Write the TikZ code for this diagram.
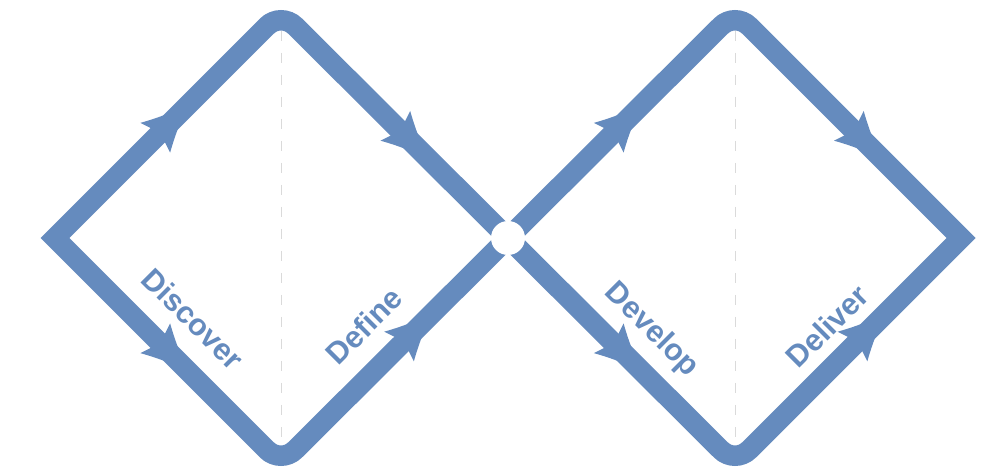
\documentclass[tikz,border=0pt]{standalone}
\usepackage{fontspec}
\setmainfont{Liberation Sans}
\usetikzlibrary{calc}
\definecolor{dblue}{RGB}{101,139,190}
\definecolor{guide}{RGB}{218,218,218}
\begin{document}
\begin{tikzpicture}[x=1pt,y=1pt,
  band/.style={draw=dblue, line width=20.5pt, line join=miter},
  phase/.style={text=dblue, font=\fontsize{30.5}{31}\selectfont\bfseries, inner sep=0pt},
  guideline/.style={draw=guide, line width=1pt, dash pattern=on 10pt off 12pt},
  headshape/.pic={\fill[dblue] (-2,21) .. controls (14,12) and (28,6) .. (44,0)
      .. controls (28,-6) and (14,-12) .. (-2,-21) -- (5,0) -- cycle;}
]
\useasboundingbox[fill=white] (0,0) rectangle (1002,469);

% corner points of the two diamonds
\coordinate (L1) at (55,231);
\coordinate (T1) at (281,457);
\coordinate (B1) at (281,5);
\coordinate (C)  at (508,231);
\coordinate (T2) at (735,457);
\coordinate (B2) at (735,5);
\coordinate (R2) at (961,231);

% faint vertical guides through each diamond
\draw[guideline] ($(T1)+(0,-19)$) -- ($(B1)+(0,20)$);
\draw[guideline] ($(T2)+(0,-19)$) -- ($(B2)+(0,20)$);

% diamonds: sharp side corners, rounded top and bottom
\draw[band] (L1) -- ($(T1)+(-14.14,-14.14)$) arc[start angle=135,end angle=45,radius=20]
  -- (C) -- ($(B1)+(14.14,14.14)$) arc[start angle=-45,end angle=-135,radius=20] -- cycle;
\draw[band] (C) -- ($(T2)+(-14.14,-14.14)$) arc[start angle=135,end angle=45,radius=20]
  -- (R2) -- ($(B2)+(14.14,14.14)$) arc[start angle=-45,end angle=-135,radius=20] -- cycle;

% direction heads along the edges
\path ($(L1)!0.45!(T1)$)  pic[rotate=45]  {headshape};
\path ($(T1)!0.51!(C)$)   pic[rotate=-45] {headshape};
\path ($(L1)!0.45!(B1)$)  pic[rotate=-45] {headshape};
\path ($(B1)!0.526!(C)$)  pic[rotate=45]  {headshape};
\path ($(C)!0.45!(T2)$)   pic[rotate=45]  {headshape};
\path ($(T2)!0.51!(R2)$)  pic[rotate=-45] {headshape};
\path ($(C)!0.45!(B2)$)   pic[rotate=-45] {headshape};
\path ($(B2)!0.526!(R2)$) pic[rotate=45]  {headshape};

% gap where the diamonds meet
\fill[white] (C) circle[radius=17];

% phase labels
\node[phase, rotate=-45] (discover) at (193,150) {Discover};
\node[phase, rotate=45]  (define)   at (364,143) {Define};
\node[phase, rotate=-45] (develop)  at (651,139) {Develop};
\node[phase, rotate=45]  (deliver)  at (827,143) {Deliver};
\end{tikzpicture}
\end{document}
